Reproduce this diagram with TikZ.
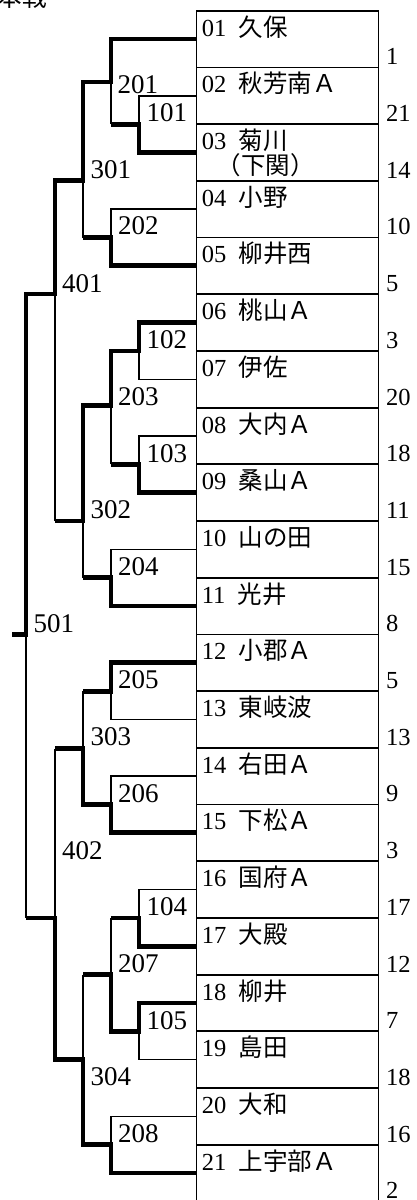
\documentclass[tikz,border=0pt]{standalone}
\usepackage{fontspec}
\setmainfont{Liberation Serif}
\newfontfamily\jpfont{Noto Sans CJK JP}
\newcommand{\jp}[1]{{\jpfont #1}}
\usepackage{tikz}
\usetikzlibrary{positioning}

\begin{document}
\begin{tikzpicture}[x=1pt,y=-1pt,
	teambox/.style={draw=black,line width=1.8pt,minimum width=182pt,minimum height=56.7pt,inner sep=0pt},
	tname/.style={anchor=base west,inner sep=0pt,xshift=6pt,yshift=-26.3pt,font=\fontsize{24.5}{25}\selectfont},
	tscore/.style={anchor=base west,inner sep=0pt,xshift=6.5pt,yshift=3.5pt,font=\fontsize{24.5}{25}\selectfont},
	mnum/.style={anchor=base west,inner sep=0pt,font=\fontsize{27}{27}\selectfont},
	lose/.style={line width=1.5pt},
	win/.style={line width=4.8pt}]
	\useasboundingbox (0,0) rectangle (417,1200);
	\clip (0,0) rectangle (417,1200);
	\node[anchor=base east,inner sep=0pt,font=\fontsize{24.5}{25}\selectfont] (title) at (47,6) {\jp{本戦}};
	%% the teams
	\node[teambox,label={[tname,name=n01]north west:01\enspace\jp{久保}},label={[tscore,name=s01]south east:1}] (t01) at (287.5,39.05) {};
	\node[teambox,label={[tname,name=n02]north west:02\enspace\jp{秋芳南Ａ}},label={[tscore,name=s02]south east:21}] (t02) at (287.5,95.75) {};
	\node[teambox,label={[tname,name=n03]north west:03\enspace\jp{菊川}},label={[tname,name=n03b,xshift=15pt,yshift=-25pt]north west:\jp{（下関）}},label={[tscore,name=s03]south east:14}] (t03) at (287.5,152.45) {};
	\node[teambox,label={[tname,name=n04]north west:04\enspace\jp{小野}},label={[tscore,name=s04]south east:10}] (t04) at (287.5,209.15) {};
	\node[teambox,label={[tname,name=n05]north west:05\enspace\jp{柳井西}},label={[tscore,name=s05]south east:5}] (t05) at (287.5,265.85) {};
	\node[teambox,label={[tname,name=n06]north west:06\enspace\jp{桃山Ａ}},label={[tscore,name=s06]south east:3}] (t06) at (287.5,322.55) {};
	\node[teambox,label={[tname,name=n07]north west:07\enspace\jp{伊佐}},label={[tscore,name=s07]south east:20}] (t07) at (287.5,379.25) {};
	\node[teambox,label={[tname,name=n08]north west:08\enspace\jp{大内Ａ}},label={[tscore,name=s08]south east:18}] (t08) at (287.5,435.95) {};
	\node[teambox,label={[tname,name=n09]north west:09\enspace\jp{桑山Ａ}},label={[tscore,name=s09]south east:11}] (t09) at (287.5,492.65) {};
	\node[teambox,label={[tname,name=n10]north west:10\enspace\jp{山の田}},label={[tscore,name=s10]south east:15}] (t10) at (287.5,549.35) {};
	\node[teambox,label={[tname,name=n11]north west:11\enspace\jp{光井}},label={[tscore,name=s11]south east:8}] (t11) at (287.5,606.05) {};
	\node[teambox,label={[tname,name=n12]north west:12\enspace\jp{小郡Ａ}},label={[tscore,name=s12]south east:5}] (t12) at (287.5,662.75) {};
	\node[teambox,label={[tname,name=n13]north west:13\enspace\jp{東岐波}},label={[tscore,name=s13]south east:13}] (t13) at (287.5,719.45) {};
	\node[teambox,label={[tname,name=n14]north west:14\enspace\jp{右田Ａ}},label={[tscore,name=s14]south east:9}] (t14) at (287.5,776.15) {};
	\node[teambox,label={[tname,name=n15]north west:15\enspace\jp{下松Ａ}},label={[tscore,name=s15]south east:3}] (t15) at (287.5,832.85) {};
	\node[teambox,label={[tname,name=n16]north west:16\enspace\jp{国府Ａ}},label={[tscore,name=s16]south east:17}] (t16) at (287.5,889.55) {};
	\node[teambox,label={[tname,name=n17]north west:17\enspace\jp{大殿}},label={[tscore,name=s17]south east:12}] (t17) at (287.5,946.25) {};
	\node[teambox,label={[tname,name=n18]north west:18\enspace\jp{柳井}},label={[tscore,name=s18]south east:7}] (t18) at (287.5,1002.95) {};
	\node[teambox,label={[tname,name=n19]north west:19\enspace\jp{島田}},label={[tscore,name=s19]south east:18}] (t19) at (287.5,1059.65) {};
	\node[teambox,label={[tname,name=n20]north west:20\enspace\jp{大和}},label={[tscore,name=s20]south east:16}] (t20) at (287.5,1116.35) {};
	\node[teambox,label={[tname,name=n21]north west:21\enspace\jp{上宇部Ａ}},label={[tscore,name=s21]south east:2}] (t21) at (287.5,1173.05) {};
	%% the match points
	\coordinate (m101) at (139,124.1);
	\coordinate (m102) at (139,350.9);
	\coordinate (m103) at (139,464.3);
	\coordinate (m104) at (139,917.9);
	\coordinate (m105) at (139,1031.3);
	\coordinate (m201) at (111,81.9);
	\coordinate (m202) at (111,237.5);
	\coordinate (m203) at (111,405.5);
	\coordinate (m204) at (111,577.7);
	\coordinate (m205) at (111,691.1);
	\coordinate (m206) at (111,804.5);
	\coordinate (m207) at (111,974.6);
	\coordinate (m208) at (111,1144.7);
	\coordinate (m301) at (83,180.5);
	\coordinate (m302) at (83,521);
	\coordinate (m303) at (83,748.5);
	\coordinate (m304) at (83,1059.65);
	\coordinate (m401) at (55,294);
	\coordinate (m402) at (55,917.9);
	\coordinate (m501) at (26,634.4);
	\coordinate (champ) at (12,634.4);
	% losers
	\draw[lose] (t02.west) -| (m101);
	\draw[lose] (t04.west) -| (m202);
	\draw[lose] (t07.west) -| (m102);
	\draw[lose] (t08.west) -| (m103);
	\draw[lose] (t10.west) -| (m204);
	\draw[lose] (t13.west) -| (m205);
	\draw[lose] (t14.west) -| (m206);
	\draw[lose] (t16.west) -| (m104);
	\draw[lose] (t19.west) -| (m105);
	\draw[lose] (t20.west) -| (m208);
	\draw[lose] (m101 -| m201) -- (m201);
	\draw[lose] (m202 -| m301) -- (m301);
	\draw[lose] (m103 -| m203) -- (m203);
	\draw[lose] (m204 -| m302) -- (m302);
	\draw[lose] (m302 -| m401) -- (m401);
	\draw[lose] (m205 -| m303) -- (m303);
	\draw[lose] (m104 -| m207) -- (m207);
	\draw[lose] (m207 -| m304) -- (m304);
	\draw[lose] (m303 -| m402) -- (m402);
	\draw[lose] (m402 -| m501) -- (m501);
	% winners
	\draw[win] (t01.west) -| (m201) -| (m301) -| (m401) -| (m501) -- (champ);
	\draw[win] (t03.west) -| (m101) -- (m101 -| m201);
	\draw[win] (t05.west) -| (m202) -- (m202 -| m301);
	\draw[win] (t06.west) -| (m102) -| (m203) -| (m302) -- (m302 -| m401);
	\draw[win] (t09.west) -| (m103) -- (m103 -| m203);
	\draw[win] (t11.west) -| (m204) -- (m204 -| m302);
	\draw[win] (t12.west) -| (m205) -- (m205 -| m303);
	\draw[win] (t15.west) -| (m206) -| (m303) -- (m303 -| m402);
	\draw[win] (t17.west) -| (m104) -- (m104 -| m207);
	\draw[win] (t18.west) -| (m105) -| (m207) -- (m207 -| m304);
	\draw[win] (t21.west) -| (m208) -| (m304) -| (m402) -- (m402 -| m501);
	%% the match numbers
	\node[mnum] (l101) at (146.5,121.7) {101};
	\node[mnum] (l102) at (146.5,348.5) {102};
	\node[mnum] (l103) at (146.5,462) {103};
	\node[mnum] (l104) at (146.5,915.5) {104};
	\node[mnum] (l105) at (146.5,1029) {105};
	\node[mnum] (l201) at (117.5,93) {201};
	\node[mnum] (l202) at (118,234.5) {202};
	\node[mnum] (l203) at (118,405) {203};
	\node[mnum] (l204) at (118,575.5) {204};
	\node[mnum] (l205) at (118,688.5) {205};
	\node[mnum] (l206) at (118,802) {206};
	\node[mnum] (l207) at (118,972) {207};
	\node[mnum] (l208) at (118,1142) {208};
	\node[mnum] (l301) at (90.5,178.5) {301};
	\node[mnum] (l302) at (90.5,518.5) {302};
	\node[mnum] (l303) at (90.5,745.5) {303};
	\node[mnum] (l304) at (90.5,1085.5) {304};
	\node[mnum] (l401) at (62,292) {401};
	\node[mnum] (l402) at (62,859) {402};
	\node[mnum] (l501) at (33.5,632) {501};
\end{tikzpicture}
\end{document}
